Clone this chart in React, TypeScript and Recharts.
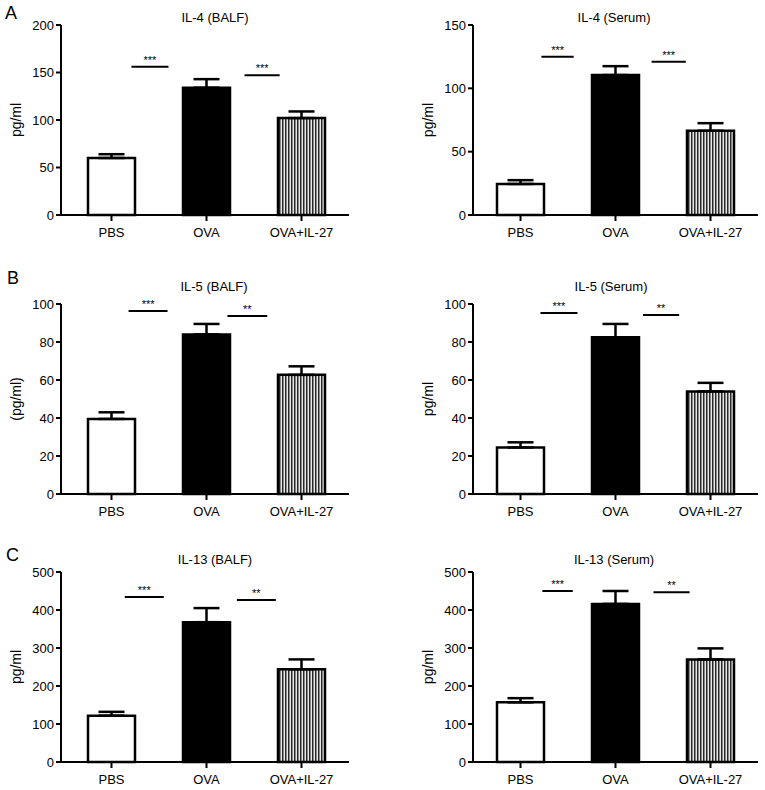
import React from 'react';
import { BarChart, Bar, XAxis, YAxis, ErrorBar, ReferenceLine, Cell, Label } from 'recharts';

const groups = ['PBS', 'OVA', 'OVA+IL-27'];

const il4BalfMeans = [60, 134, 102];
const il4BalfErrors = [4, 9, 7];
const il4BalfTicks = [0, 50, 100, 150, 200];
const il4BalfSig = [
  { from: 'PBS', to: 'OVA', y: 156, label: '***', start: 0.21, end: 0.6 },
  { from: 'OVA', to: 'OVA+IL-27', y: 147, label: '***', start: 0.4, end: 0.77 },
];

const il4SerumMeans = [24.5, 110.5, 66.5];
const il4SerumErrors = [3, 7, 6];
const il4SerumTicks = [0, 50, 100, 150];
const il4SerumSig = [
  { from: 'PBS', to: 'OVA', y: 125, label: '***', start: 0.22, end: 0.56 },
  { from: 'OVA', to: 'OVA+IL-27', y: 121, label: '***', start: 0.38, end: 0.74 },
];

const il5BalfMeans = [39.5, 84, 62.7];
const il5BalfErrors = [3.5, 5.5, 4.5];
const il5BalfTicks = [0, 20, 40, 60, 80, 100];
const il5BalfSig = [
  { from: 'PBS', to: 'OVA', y: 96.3, label: '***', start: 0.18, end: 0.59 },
  { from: 'OVA', to: 'OVA+IL-27', y: 93.7, label: '**', start: 0.22, end: 0.64 },
];

const il5SerumMeans = [24.5, 82.5, 54];
const il5SerumErrors = [2.7, 7, 4.5];
const il5SerumTicks = [0, 20, 40, 60, 80, 100];
const il5SerumSig = [
  { from: 'PBS', to: 'OVA', y: 95.3, label: '***', start: 0.21, end: 0.6 },
  { from: 'OVA', to: 'OVA+IL-27', y: 94.2, label: '**', start: 0.29, end: 0.67 },
];

const il13BalfMeans = [122, 368, 244];
const il13BalfErrors = [10, 37, 26];
const il13BalfTicks = [0, 100, 200, 300, 400, 500];
const il13BalfSig = [
  { from: 'PBS', to: 'OVA', y: 434, label: '***', start: 0.14, end: 0.55 },
  { from: 'OVA', to: 'OVA+IL-27', y: 426, label: '**', start: 0.32, end: 0.73 },
];

const il13SerumMeans = [157, 416, 270];
const il13SerumErrors = [11, 34, 29];
const il13SerumTicks = [0, 100, 200, 300, 400, 500];
const il13SerumSig = [
  { from: 'PBS', to: 'OVA', y: 450, label: '***', start: 0.23, end: 0.55 },
  { from: 'OVA', to: 'OVA+IL-27', y: 447, label: '**', start: 0.4, end: 0.78 },
];

const FONT = '"Liberation Sans", Arial, Helvetica, sans-serif';

type Sig = { from: string; to: string; y: number; label: string; start: number; end: number };

type PanelProps = {
  id: string;
  left: number;
  top: number;
  height: number;
  marginTop: number;
  yWidth: number;
  marginRight: number;
  padLeft: number;
  yLabel: string;
  means: number[];
  errors: number[];
  ticks: number[];
  sigs: Sig[];
};

const fills = (id: string) => ['#ffffff', '#000000', `url(#stripes-${id})`];

function Panel(p: PanelProps) {
  const data = groups.map((g, i) => ({ group: g, mean: p.means[i], err: [0, p.errors[i]] }));
  const width = 380;
  const plotH = 190;
  const xAxisH = p.height - p.marginTop - plotH;
  const fc = fills(p.id);
  const renderYLabel = () => {
    const cx = p.yWidth - 45;
    const cy = p.marginTop + plotH / 2;
    return (
      <text
        x={cx}
        y={cy}
        transform={`rotate(-90 ${cx} ${cy})`}
        textAnchor="middle"
        dominantBaseline="central"
        fontSize={14}
        fontFamily={FONT}
        fill="#000"
      >
        {p.yLabel}
      </text>
    );
  };
  return (
    <div style={{ position: 'absolute', left: p.left, top: p.top, width, height: p.height }}>
      <BarChart
        width={width}
        height={p.height}
        data={data}
        margin={{ top: p.marginTop, right: p.marginRight, bottom: 0, left: 0 }}
        barCategoryGap={0}
      >
        <defs>
          <pattern id={`stripes-${p.id}`} patternUnits="userSpaceOnUse" width={3} height={6}>
            <rect x={0} y={0} width={3} height={6} fill="#e6e6e6" />
            <rect x={0} y={0} width={1.5} height={6} fill="#2a2a2a" />
          </pattern>
        </defs>
        <XAxis
          dataKey="group"
          height={xAxisH}
          tickSize={6}
          tickMargin={7}
          padding={{ left: p.padLeft, right: 0 }}
          axisLine={{ stroke: '#000', strokeWidth: 2 }}
          tickLine={{ stroke: '#000', strokeWidth: 2 }}
          tick={{ fill: '#000', fontSize: 13, fontFamily: FONT }}
          interval={0}
        />
        <YAxis
          domain={[0, p.ticks[p.ticks.length - 1]]}
          ticks={p.ticks}
          width={p.yWidth}
          tickSize={5}
          tickMargin={2}
          interval={0}
          axisLine={{ stroke: '#000', strokeWidth: 2 }}
          tickLine={{ stroke: '#000', strokeWidth: 2 }}
          tick={{ fill: '#000', fontSize: 13, fontFamily: FONT }}
        >
          <Label content={renderYLabel} />
        </YAxis>
        {p.sigs.map((s, i) => (
          <ReferenceLine
            key={i}
            segment={[{ x: s.from, y: s.y }, { x: s.to, y: s.y }]}
            stroke="#000"
            strokeWidth={2}
            shape={(props: any) => {
              const x1 = Number(props.x1);
              const x2 = Number(props.x2);
              const y = Number(props.y1);
              const xa = x1 + (x2 - x1) * s.start;
              const xb = x1 + (x2 - x1) * s.end;
              return (
                <g>
                  <line x1={xa} y1={y} x2={xb} y2={y} stroke="#000" strokeWidth={2} />
                  <text
                    x={(xa + xb) / 2}
                    y={y - 3}
                    textAnchor="middle"
                    fontSize={11}
                    fontFamily={FONT}
                    fill="#000"
                  >
                    {s.label}
                  </text>
                </g>
              );
            }}
          />
        ))}
        <Bar dataKey="mean" barSize={47} stroke="#000" strokeWidth={2.5} isAnimationActive={false}>
          {data.map((d, i) => (
            <Cell key={d.group} fill={fc[i]} />
          ))}
          <ErrorBar dataKey="err" width={13} stroke="#000" strokeWidth={2.5} direction="y" isAnimationActive={false} />
        </Bar>
      </BarChart>
    </div>
  );
}

const Title = ({ text, cx, cy }: { text: string; cx: number; cy: number }) => (
  <div
    style={{
      position: 'absolute',
      left: cx - 100,
      width: 200,
      top: cy - 7.3,
      textAlign: 'center',
      fontSize: 13,
      lineHeight: '15px',
      fontFamily: FONT,
      color: '#000',
      whiteSpace: 'nowrap',
    }}
  >
    {text}
  </div>
);

const Letter = ({ text, x, cy }: { text: string; x: number; cy: number }) => (
  <div
    style={{
      position: 'absolute',
      left: x,
      top: cy - 9.8,
      fontSize: 18,
      lineHeight: '20px',
      fontFamily: FONT,
      color: '#000',
    }}
  >
    {text}
  </div>
);

export default function App() {
  return (
    <div
      style={{
        position: 'absolute',
        left: 0,
        top: 0,
        width: 765,
        height: 790,
        background: '#fff',
        overflow: 'hidden',
        fontFamily: FONT,
      }}
    >
      <Panel id="a1" left={0} top={0} height={250} marginTop={25} yWidth={61} marginRight={31} padLeft={3}
        yLabel="pg/ml" means={il4BalfMeans} errors={il4BalfErrors} ticks={il4BalfTicks} sigs={il4BalfSig} />
      <Panel id="a2" left={385} top={0} height={250} marginTop={25} yWidth={88} marginRight={7} padLeft={0}
        yLabel="pg/ml" means={il4SerumMeans} errors={il4SerumErrors} ticks={il4SerumTicks} sigs={il4SerumSig} />
      <Panel id="b1" left={0} top={265} height={265} marginTop={39} yWidth={61} marginRight={31} padLeft={3}
        yLabel="(pg/ml)" means={il5BalfMeans} errors={il5BalfErrors} ticks={il5BalfTicks} sigs={il5BalfSig} />
      <Panel id="b2" left={385} top={265} height={265} marginTop={39} yWidth={88} marginRight={7} padLeft={0}
        yLabel="pg/ml" means={il5SerumMeans} errors={il5SerumErrors} ticks={il5SerumTicks} sigs={il5SerumSig} />
      <Panel id="c1" left={0} top={530} height={260} marginTop={42} yWidth={61} marginRight={31} padLeft={3}
        yLabel="pg/ml" means={il13BalfMeans} errors={il13BalfErrors} ticks={il13BalfTicks} sigs={il13BalfSig} />
      <Panel id="c2" left={385} top={530} height={260} marginTop={42} yWidth={88} marginRight={7} padLeft={0}
        yLabel="pg/ml" means={il13SerumMeans} errors={il13SerumErrors} ticks={il13SerumTicks} sigs={il13SerumSig} />

      <Title text="IL-4 (BALF)" cx={215} cy={17} />
      <Title text="IL-4 (Serum)" cx={614} cy={17} />
      <Title text="IL-5 (BALF)" cx={214} cy={286} />
      <Title text="IL-5 (Serum)" cx={611} cy={286} />
      <Title text="IL-13 (BALF)" cx={215} cy={559} />
      <Title text="IL-13 (Serum)" cx={614} cy={559} />

      <Letter text="A" x={5} cy={12.5} />
      <Letter text="B" x={7} cy={278} />
      <Letter text="C" x={6} cy={555} />
    </div>
  );
}
